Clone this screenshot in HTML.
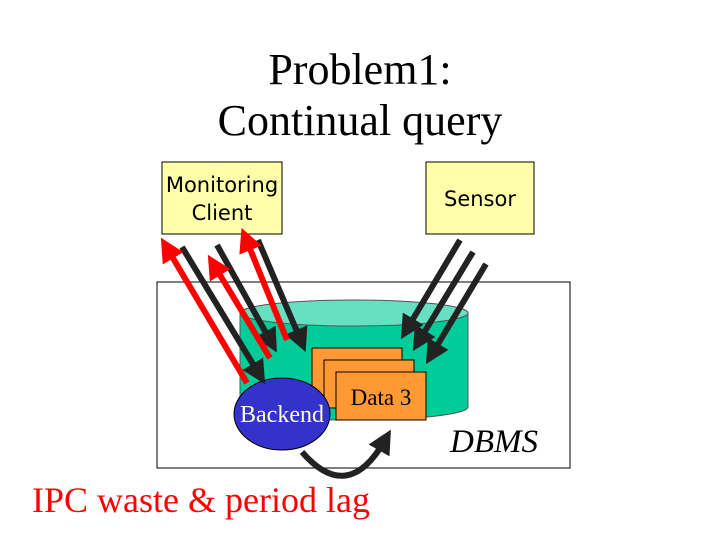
<!DOCTYPE html>
<html><head><style>
body{margin:0;width:720px;height:540px;background:#fff;overflow:hidden}
</style></head><body>
<svg width="720" height="540" xmlns="http://www.w3.org/2000/svg">
<defs>
<marker id="bk" markerWidth="4" markerHeight="4" refX="2" refY="2" orient="auto"><path d="M0,0 L4,2 L0,4 Z" fill="#222"/></marker>
<marker id="rd" markerWidth="4" markerHeight="4" refX="2" refY="2" orient="auto"><path d="M0,0 L4,2 L0,4 Z" fill="#f00"/></marker>
</defs>
<text x="360" y="84" font-family="Liberation Serif" font-size="44" text-anchor="middle">Problem1:</text>
<text x="360" y="135" font-family="Liberation Serif" font-size="44" text-anchor="middle">Continual query</text>
<rect x="162" y="162" width="120" height="72" fill="#ffffaa" stroke="#000"/>
<text x="222" y="192" font-family="DejaVu Sans" font-size="21" text-anchor="middle">Monitoring</text>
<text x="222" y="220" font-family="DejaVu Sans" font-size="21" text-anchor="middle">Client</text>
<rect x="426" y="162" width="108" height="72" fill="#ffffaa" stroke="#000"/>
<text x="480" y="206" font-family="DejaVu Sans" font-size="21" text-anchor="middle">Sensor</text>
<rect x="157" y="282" width="413" height="186" fill="#fff" stroke="#000"/>
<path d="M240,313 L240,407 A114,13 0 0 0 468,407 L468,313 Z" fill="#00cc99" stroke="#555"/>
<ellipse cx="354" cy="313" rx="114" ry="13" fill="#66e0c0" stroke="#555"/>
<rect x="312" y="348" width="90" height="48" fill="#ff9933" stroke="#000"/>
<rect x="324" y="360" width="90" height="48" fill="#ff9933" stroke="#000"/>
<rect x="336" y="372" width="90" height="48" fill="#ff9933" stroke="#000"/>
<text x="381" y="405" font-family="Liberation Serif" font-size="23" text-anchor="middle">Data 3</text>
<ellipse cx="282" cy="414" rx="48" ry="36" fill="#3333cc" stroke="#000"/>
<text x="282" y="422" font-family="Liberation Serif" font-size="24" fill="#ffffcc" text-anchor="middle">Backend</text>
<text x="450" y="452" font-family="Liberation Serif" font-size="33" font-style="italic">DBMS</text>
<g stroke="#222" stroke-width="6" marker-end="url(#bk)">
<line x1="182" y1="247" x2="259" y2="374"/>
<line x1="217" y1="245" x2="271" y2="342"/>
<line x1="258" y1="240" x2="301" y2="341"/>
<line x1="460" y1="240" x2="407" y2="329"/>
<line x1="473" y1="252" x2="419" y2="341"/>
<line x1="486" y1="264" x2="432" y2="354"/>
</g>
<g stroke="#f00" stroke-width="6" marker-end="url(#rd)">
<line x1="247" y1="383" x2="167" y2="248"/>
<line x1="270" y1="358" x2="214" y2="265"/>
<line x1="287" y1="340" x2="246" y2="239"/>
</g>
<path d="M302,452 Q348,505 385,440" fill="none" stroke="#222" stroke-width="6" marker-end="url(#bk)"/>
<text x="32" y="512" font-family="Liberation Serif" font-size="36" fill="#ff0000">IPC waste &amp; period lag</text>
</svg>
</body></html>
